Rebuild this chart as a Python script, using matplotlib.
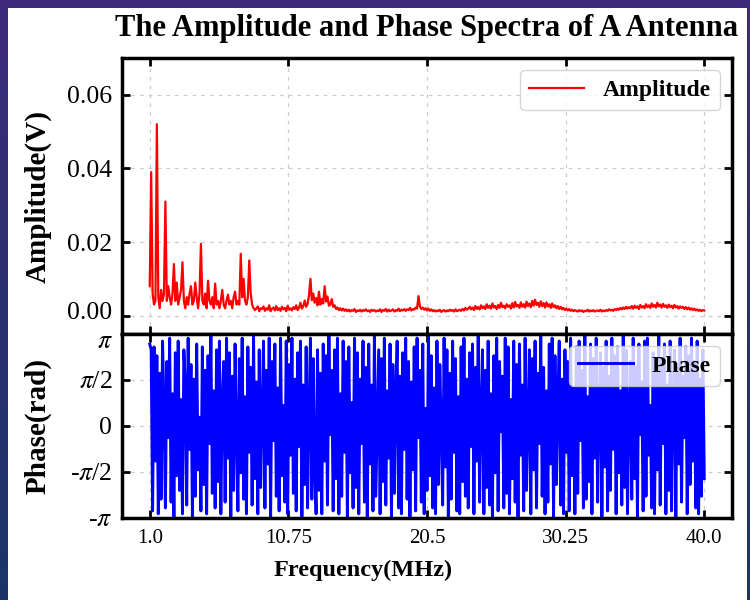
import numpy as np
import matplotlib
matplotlib.use("Agg")
import matplotlib.pyplot as plt
import matplotlib.transforms as mtransforms
from matplotlib.patches import Rectangle

# frequency grid (MHz), 0.1 MHz steps from 1.0 to 40.0
freq = np.linspace(1.0, 40.0, 391)

# amplitude spectrum (V)
amplitude = [
    0.008, 0.039, 0.006, 0.003, 0.004, 0.052, 0.005, 0.002, 0.007, 0.004, 0.006, 0.031, 0.004, 0.008, 0.005, 0.003, 0.006, 0.014, 0.004, 0.009,
    0.003, 0.005, 0.007, 0.0145, 0.004, 0.002, 0.005, 0.003, 0.006, 0.008, 0.003, 0.004, 0.009, 0.005, 0.002, 0.006, 0.0195, 0.004, 0.003, 0.006,
    0.002, 0.0095, 0.004, 0.003, 0.005, 0.002, 0.0087, 0.003, 0.004, 0.002, 0.004, 0.007, 0.003, 0.002, 0.004, 0.0057, 0.003, 0.004, 0.002, 0.005,
    0.0065, 0.003, 0.004, 0.003, 0.0168, 0.005, 0.010, 0.004, 0.003, 0.005, 0.015, 0.006, 0.003, 0.002, 0.0015, 0.002, 0.0025, 0.0012, 0.002, 0.0018,
    0.0025, 0.0013, 0.002, 0.0016, 0.0028, 0.0012, 0.0019, 0.0022, 0.0014, 0.0026, 0.0015, 0.002, 0.0013, 0.0024, 0.0017, 0.0021, 0.0012, 0.0027, 0.0016, 0.002,
    0.0014, 0.0023, 0.0018, 0.0028, 0.0015, 0.0022, 0.0035, 0.0019, 0.0026, 0.0041, 0.0024, 0.0032, 0.0055, 0.0100, 0.0042, 0.006, 0.0035, 0.0048, 0.0028, 0.0065,
    0.003, 0.0045, 0.0033, 0.008, 0.0038, 0.0052, 0.0027, 0.003, 0.0045, 0.0024, 0.0028, 0.0018, 0.0022, 0.0015, 0.002, 0.0014, 0.0019, 0.0013, 0.0017, 0.0012,
    0.0016, 0.0011, 0.0015, 0.0013, 0.0018, 0.001, 0.0014, 0.0012, 0.0016, 0.0011, 0.0015, 0.0013, 0.0017, 0.0012, 0.0014, 0.001, 0.0016, 0.0013, 0.0015, 0.0011,
    0.0014, 0.0012, 0.0017, 0.001, 0.0015, 0.0013, 0.0018, 0.0011, 0.0016, 0.0012, 0.0014, 0.0017, 0.0011, 0.0015, 0.0013, 0.0019, 0.0012, 0.0016, 0.0014, 0.0018,
    0.0013, 0.0017, 0.0015, 0.0021, 0.0014, 0.0018, 0.0016, 0.0022, 0.0019, 0.0053, 0.0025, 0.0018, 0.0022, 0.0016, 0.002, 0.0014, 0.0019, 0.0013, 0.0017, 0.0012,
    0.0015, 0.0011, 0.0014, 0.0012, 0.0016, 0.001, 0.0013, 0.0015, 0.0011, 0.0014, 0.0012, 0.0016, 0.0013, 0.0015, 0.0011, 0.0017, 0.0012, 0.0014, 0.0016, 0.0013,
    0.0018, 0.0014, 0.0021, 0.0016, 0.0019, 0.0024, 0.0017, 0.0022, 0.0015, 0.0026, 0.0018, 0.0023, 0.0017, 0.0028, 0.002, 0.0025, 0.0018, 0.0031, 0.0021, 0.0027,
    0.0019, 0.0033, 0.0022, 0.0026, 0.0018, 0.0029, 0.0021, 0.0035, 0.0023, 0.0027, 0.002, 0.0031, 0.0024, 0.0028, 0.0019, 0.0034, 0.0022, 0.0037, 0.0025, 0.0029,
    0.0021, 0.0036, 0.0024, 0.0031, 0.0022, 0.0038, 0.0026, 0.0033, 0.0023, 0.004, 0.0027, 0.0043, 0.0029, 0.0035, 0.0024, 0.0039, 0.0026, 0.0034, 0.0022, 0.0036,
    0.0025, 0.0031, 0.0021, 0.0033, 0.0023, 0.0028, 0.002, 0.0026, 0.0018, 0.0024, 0.0017, 0.0021, 0.0015, 0.0019, 0.0014, 0.0018, 0.0013, 0.0016, 0.0012, 0.0015,
    0.0013, 0.0011, 0.0015, 0.0012, 0.0014, 0.001, 0.0013, 0.0012, 0.0016, 0.0011, 0.0014, 0.0012, 0.0015, 0.0011, 0.0013, 0.0014, 0.0012, 0.0016, 0.0011, 0.0014,
    0.0012, 0.0015, 0.0013, 0.0017, 0.0014, 0.0016, 0.0013, 0.0018, 0.0015, 0.0019, 0.0016, 0.0021, 0.0017, 0.0022, 0.0018, 0.0024, 0.0019, 0.0023, 0.002, 0.0026,
    0.0019, 0.0027, 0.0021, 0.0025, 0.0018, 0.0029, 0.0022, 0.0026, 0.002, 0.0031, 0.0023, 0.0028, 0.0021, 0.0033, 0.0024, 0.0029, 0.0022, 0.0035, 0.0025, 0.003,
    0.0022, 0.0032, 0.0024, 0.0028, 0.0021, 0.003, 0.0023, 0.0027, 0.002, 0.0029, 0.0022, 0.0026, 0.0019, 0.0025, 0.0021, 0.0024, 0.0018, 0.0023, 0.0017, 0.0022,
    0.0016, 0.002, 0.0015, 0.0019, 0.0014, 0.0017, 0.0013, 0.0016, 0.0012, 0.0015, 0.0014,
]

# phase spectrum (rad)
phase = [
    2.8, 2.6, -2.9, 2.7, -1.2, 2.4, -3.0, 1.8, -2.5, 2.9, 0.6, -2.8, 2.2, -0.4, 3.0, -2.6, 1.1, -3.1, 2.5, -1.7,
    2.9, -2.2, 0.9, -3.0, 2.6, 1.4, -2.7, 3.0, -0.8, 2.1, -3.1, 1.6, -2.4, 2.8, -1.5, 0.3, -2.9, 2.7, -2.0, 1.9,
    -3.0, 2.4, -0.6, 3.1, -2.3, 1.2, -2.8, 2.6, -1.9, 2.9, -3.0, 0.8, 2.2, -2.6, 3.0, -1.1, 2.5, -3.1, 1.7, -2.2,
    2.8, -0.2, -2.9, 2.3, -1.6, 3.0, -2.5, 1.0, -3.0, 2.7, -0.9, 2.0, -2.7, 3.1, -1.8, 1.5, -3.0, 2.6, -2.1, 0.5,
    2.9, -2.8, 1.9, -1.3, 3.0, -3.1, 2.2, -0.5, 2.8, -2.4, 1.3, -2.9, 3.0, -1.7, 0.7, -2.6, 2.9, -3.0, 2.1, -1.0,
    3.0, -2.3, 1.6, -2.9, 2.5, -0.7, 2.9, -3.1, 1.4, -2.0, 2.7, -2.8, 0.4, 3.0, -2.5, 2.3, -1.4, -3.0, 2.6, -2.2,
    1.8, -3.0, 2.8, -1.2, 2.4, -2.7, 3.1, -0.3, 1.9, -2.9, 2.6, -1.8, 3.0, -3.0, 1.1, -2.4, 2.9, -0.9, 2.2, -3.1,
    2.7, -1.6, 0.8, -2.8, 3.0, -2.1, 2.5, -3.0, 1.6, -0.6, 2.9, -2.6, 2.0, -3.1, 2.8, -1.3, 1.4, -2.9, 3.1, -2.4,
    0.2, 2.6, -3.0, 2.3, -1.9, 3.0, -2.7, 1.2, -1.1, 2.8, -3.1, 2.1, -2.3, 0.9, 2.9, -2.8, 1.7, -3.0, 2.5, -0.8,
    3.0, -2.5, 2.2, -3.1, 1.5, -1.5, 2.7, -2.9, 3.0, -0.4, 1.9, -2.6, 2.8, -3.0, 0.6, -2.2, 3.1, -1.7, 2.4, -2.8,
    1.3, -3.0, 2.9, -2.0, 2.1, -0.1, -2.7, 3.0, -1.4, 2.6, -3.1, 1.8, -2.5, 2.9, -0.9, 2.3, -2.9, 1.0, -3.0, 2.7,
    -1.9, 3.0, -2.4, 1.6, -2.8, 2.5, -0.7, 2.8, -3.0, 2.0, -1.2, 3.1, -2.6, 0.5, 2.6, -3.0, 1.9, -2.1, 2.9, -2.7,
    1.1, -3.1, 2.4, -1.6, 3.0, -2.9, 2.2, -0.2, 1.7, -2.8, 3.0, -2.3, 2.7, -3.0, 0.9, -1.8, 2.9, -2.6, 2.1, -3.1,
    2.8, -1.0, 1.4, -2.9, 3.0, -2.2, 0.3, 2.6, -3.0, 2.3, -1.5, 2.9, -2.8, 1.8, -0.6, 3.1, -2.4, 2.0, -3.0, 1.2,
    -2.6, 2.8, -1.3, 3.0, -3.1, 2.4, -2.0, 0.8, 2.9, -2.7, 1.6, -3.0, 2.6, -0.9, 2.2, -2.9, 3.0, -1.7, 1.3, -3.0,
    2.7, -2.3, 2.9, -0.5, 1.9, -2.8, 3.1, -2.5, 1.0, -1.9, 2.8, -3.0, 2.3, -1.1, 3.0, -2.6, 0.6, 2.5, -3.1, 2.0,
    -1.4, 2.9, -2.9, 1.7, -2.2, 3.0, -0.8, 2.4, -3.0, 2.7, -1.6, 1.2, -2.7, 3.1, -2.1, 2.6, -3.0, 0.4, 2.2, -2.5,
    3.0, -1.8, 2.0, -3.1, 2.8, -0.3, 1.5, -2.9, 2.9, -2.4, 3.0, -1.0, 0.7, -2.8, 2.5, -3.0, 1.9, -1.5, 3.1, -2.7,
    2.3, -0.6, 2.8, -3.0, 1.4, -2.2, 2.9, -2.9, 0.9, 2.6, -3.1, 2.1, -1.3, 3.0, -2.6, 1.7, -0.4, 2.7, -3.0, 2.4,
    -2.0, 3.0, -1.2, 2.2, -2.8, 2.9, -3.0, 1.6, -2.4, 2.6, -1.8,
]

xtick_vals = [1.0, 10.75, 20.5, 30.25, 40.0]
xtick_labels = ["1.0", "10.75", "20.5", "30.25", "40.0"]
amp_ticks = [0.00, 0.02, 0.04, 0.06]
phase_ticks = [-np.pi, -np.pi / 2, 0, np.pi / 2, np.pi]
phase_labels = [r"-$\pi$", r"-$\pi$/2", "0", r"$\pi$/2", r"$\pi$"]

plt.rcParams["font.family"] = ["Liberation Serif", "DejaVu Serif"]
plt.rcParams["mathtext.fontset"] = "stix"

fig = plt.figure(figsize=(7.5, 6), dpi=100)

# dark gradient backdrop + white panel
bg = fig.add_axes([0, 0, 1, 1], zorder=-10)
top_c = np.array([0.24, 0.17, 0.48])
bot_c = np.array([0.10, 0.21, 0.40])
t = np.linspace(0, 1, 200)[:, None, None]
bg.imshow(top_c * (1 - t) + bot_c * t, aspect="auto", extent=[0, 1, 0, 1])
bg.axis("off")
fig.add_artist(Rectangle((8 / 750, 0), 739 / 750, 592 / 600, transform=fig.transFigure,
                         facecolor="white", edgecolor="none", zorder=-5))

ax1 = fig.add_axes([0.1627, 0.4433, 0.8133, 0.46])
ax2 = fig.add_axes([0.1627, 0.1367, 0.8133, 0.3067], sharex=ax1)

ax1.plot(freq, amplitude, color="red", lw=1.6, label="Amplitude")
ax2.plot(freq, phase, color="blue", lw=2.1, label="Phase")

ax1.set_ylim(-0.005, 0.07)
ax1.set_yticks(amp_ticks)
ax1.set_yticklabels(["%.2f" % v for v in amp_ticks])
ax2.set_ylim(-np.pi, np.pi)
ax2.set_yticks(phase_ticks)
ax2.set_yticklabels(phase_labels)
ax2.set_xticks(xtick_vals)
ax2.set_xticklabels(xtick_labels)
ax1.tick_params(labelbottom=False)

for ax in (ax1, ax2):
    ax.set_axisbelow(True)
    ax.grid(True, color="#cccccc", linestyle=(0, (3, 4)), linewidth=0.9)
    for s in ax.spines.values():
        s.set_linewidth(2.5)
    ax.tick_params(direction="in", length=6, width=2, top=True, right=True)
    ax.tick_params(axis="y", labelsize=18.5, pad=7)
    ax.tick_params(axis="x", labelsize=15, pad=8)

# the 0.00 and pi labels meet at the shared edge; nudge them apart a little
up = mtransforms.ScaledTranslation(0, 4 / 72, fig.dpi_scale_trans)
down = mtransforms.ScaledTranslation(0, -4 / 72, fig.dpi_scale_trans)
lbl = ax1.get_yticklabels()[0]
lbl.set_transform(lbl.get_transform() + up)
lbl = ax2.get_yticklabels()[-1]
lbl.set_transform(lbl.get_transform() + down)

ax1.set_title("The Amplitude and Phase Spectra of A Antenna", fontsize=22,
              fontweight="bold", pad=16)
ax1.set_ylabel("Amplitude(V)", fontsize=21, fontweight="bold")
ax2.set_ylabel("Phase(rad)", fontsize=21, fontweight="bold")
ax1.yaxis.set_label_coords(-0.115, 0.5)
ax2.yaxis.set_label_coords(-0.115, 0.5)
ax2.set_xlabel("Frequency(MHz)", fontsize=17.5, fontweight="bold")
ax2.xaxis.set_label_coords(0.395, -0.23)

leg_font = {"size": 17, "weight": "bold"}
ax1.legend(loc="upper right", prop=leg_font, handlelength=2.3)
ax2.legend(loc="upper right", prop=leg_font, handlelength=2.3)

fig.savefig("out.png", dpi=100)
